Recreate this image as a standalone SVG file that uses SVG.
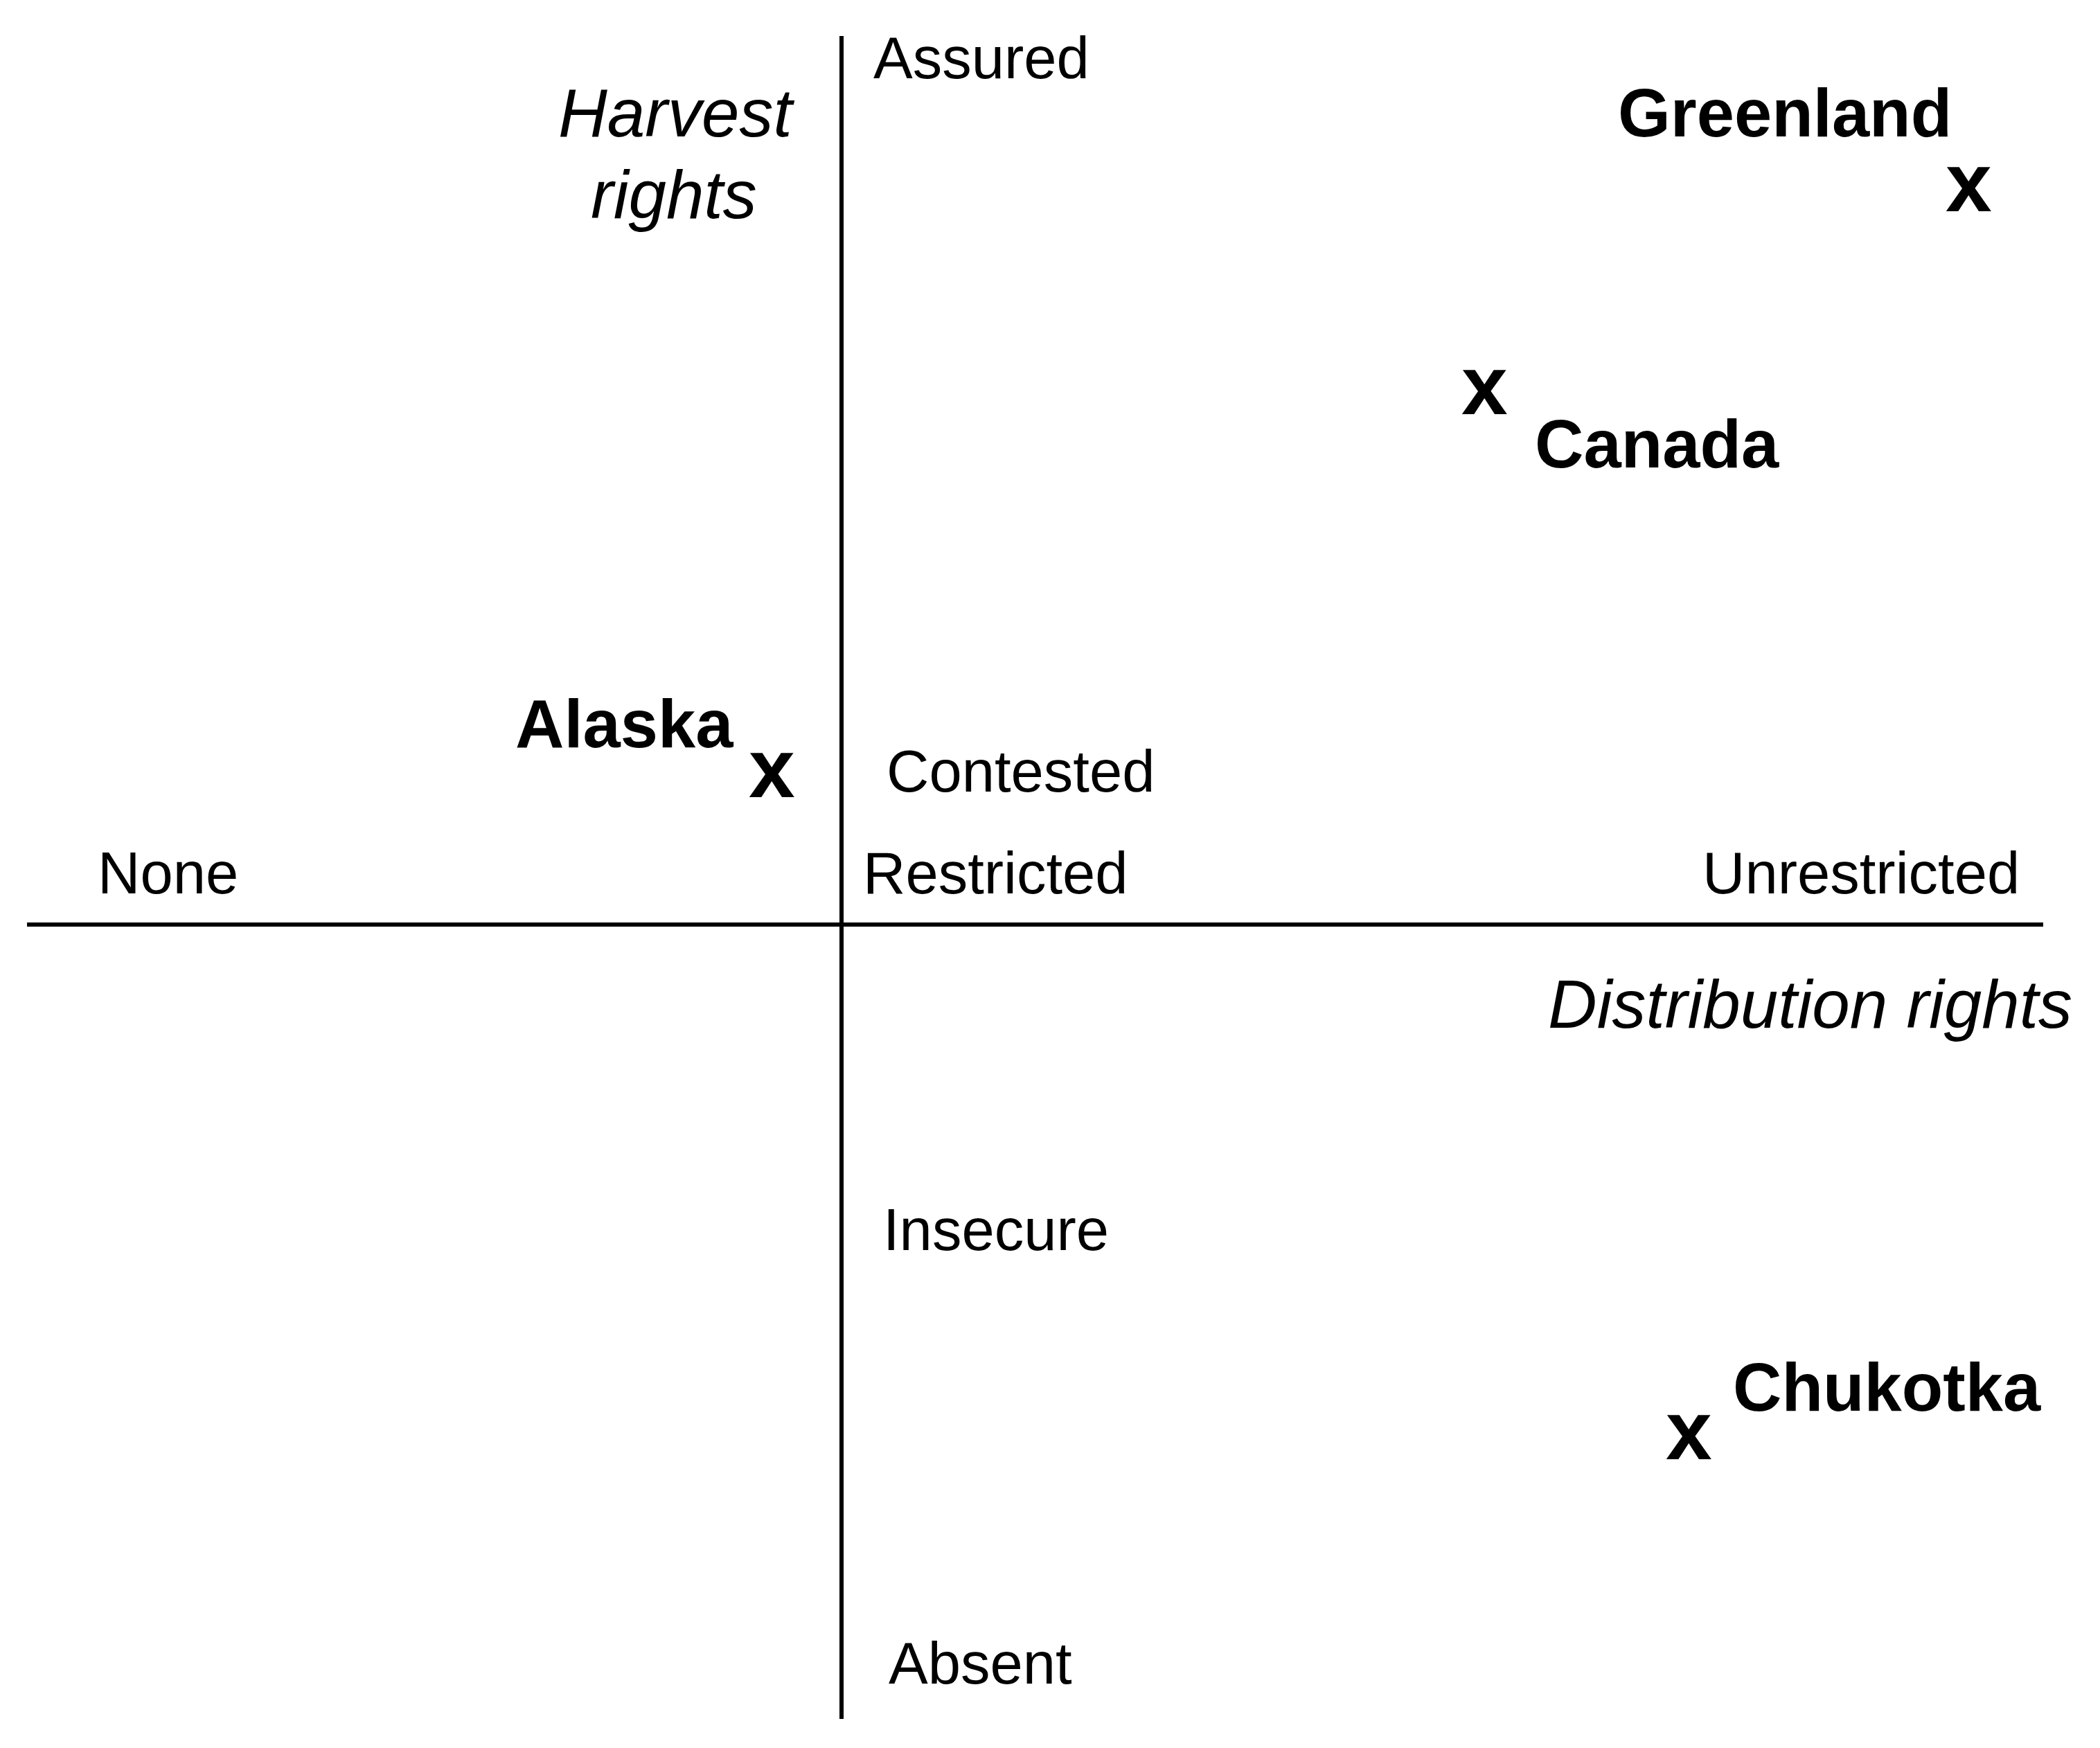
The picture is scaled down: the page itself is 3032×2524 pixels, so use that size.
<svg xmlns="http://www.w3.org/2000/svg" width="3032" height="2524" viewBox="0 0 3032 2524">
<style>
.t{font-family:"Liberation Sans",Arial,sans-serif;fill:#000}
.lab{font-size:85px}
.ax{font-size:98px;font-style:italic}
.nm{font-size:97.5px;font-weight:bold}
.mk{font-size:120px;font-weight:bold}
.axis{stroke:#000;stroke-width:6;fill:none}
</style>
<rect width="3032" height="2524" fill="#fff"/>
<g id="connectors">
<line class="axis" x1="1215" y1="52" x2="1215" y2="2482"/>
<line class="axis" x1="39" y1="1335" x2="2950" y2="1335"/>
</g>
<g id="axis-labels">
<text class="t lab" x="1261" y="113">Assured</text>
<text class="t lab" x="1280" y="1143">Contested</text>
<text class="t lab" x="1246" y="1290">Restricted</text>
<text class="t lab" x="141" y="1290">None</text>
<text class="t lab" x="2458" y="1290">Unrestricted</text>
<text class="t lab" x="1275" y="1805">Insecure</text>
<text class="t lab" x="1283" y="2431">Absent</text>
<text class="t ax" x="806" y="197">Harvest</text>
<text class="t ax" x="853" y="315">rights</text>
<text class="t ax" x="2235" y="1484">Distribution rights</text>
</g>
<g id="greenland">
<text class="t nm" x="2336" y="197">Greenland</text>
<text class="t mk" x="2809" y="305">x</text>
</g>
<g id="canada">
<text class="t nm" x="2216" y="675">Canada</text>
<text class="t mk" x="2110" y="598">x</text>
</g>
<g id="alaska">
<text class="t nm" x="744" y="1079">Alaska</text>
<text class="t mk" x="1081" y="1151">x</text>
</g>
<g id="chukotka">
<text class="t nm" x="2502" y="2037">Chukotka</text>
<text class="t mk" x="2405" y="2107">x</text>
</g>
</svg>
